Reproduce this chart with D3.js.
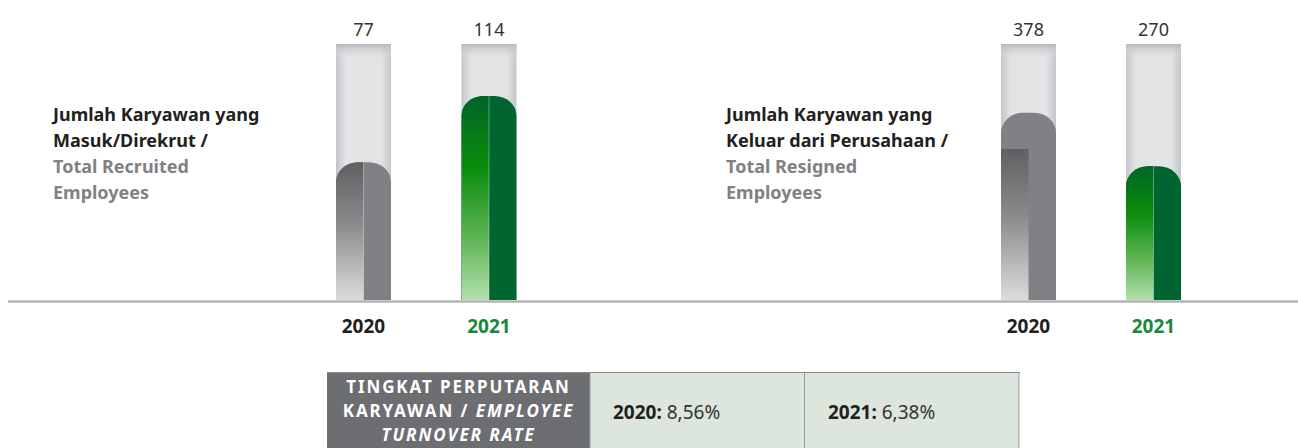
<!DOCTYPE html>
<html>
<head>
<meta charset="utf-8">
<script src="https://cdn.jsdelivr.net/npm/d3@7"></script>
<style>
  body { margin: 0; background: #fff; }
  svg { display: block; font-family: "Noto Sans", sans-serif; }
</style>
</head>
<body>
<div id="chart"></div>
<script>
// Data
const years = ["2020", "2021"];
const recruited = [77, 114];
const resigned = [378, 270];
// the lighter left-hand shading of the 2020 resigned bar stops below its top
const resignedShade = [305, 270];
const turnoverRates = ["8,56%", "6,38%"];

const width = 1298;
const height = 448;
const baseY = 300;   // bottom of the bars
const topY = 44;     // top of the grey tracks
const barW = 55;

const svg = d3.select("#chart")
  .append("svg")
  .attr("width", width)
  .attr("height", height);

const defs = svg.append("defs");

// track gradient: darker at the edges
const trackH = defs.append("linearGradient").attr("id", "trackH");
trackH.append("stop").attr("offset", "0%").attr("stop-color", "#c4c5c8");
trackH.append("stop").attr("offset", "18%").attr("stop-color", "#e3e4e6");
trackH.append("stop").attr("offset", "82%").attr("stop-color", "#e3e4e6");
trackH.append("stop").attr("offset", "100%").attr("stop-color", "#c4c5c8");

const trackV = defs.append("linearGradient").attr("id", "trackV")
  .attr("x1", 0).attr("y1", 0).attr("x2", 0).attr("y2", 1);
trackV.append("stop").attr("offset", "0%").attr("stop-color", "#b8b9bc").attr("stop-opacity", 1);
trackV.append("stop").attr("offset", "6%").attr("stop-color", "#e3e4e6").attr("stop-opacity", 0);
trackV.append("stop").attr("offset", "100%").attr("stop-color", "#e3e4e6").attr("stop-opacity", 0);

const greyShade = defs.append("linearGradient").attr("id", "greyShade")
  .attr("x1", 0).attr("y1", 0).attr("x2", 0).attr("y2", 1);
greyShade.append("stop").attr("offset", "0%").attr("stop-color", "#5f6062");
greyShade.append("stop").attr("offset", "45%").attr("stop-color", "#8a8b8c");
greyShade.append("stop").attr("offset", "100%").attr("stop-color", "#dcdcdc");

const greenShade = defs.append("linearGradient").attr("id", "greenShade")
  .attr("x1", 0).attr("y1", 0).attr("x2", 0).attr("y2", 1);
greenShade.append("stop").attr("offset", "0%").attr("stop-color", "#006426");
greenShade.append("stop").attr("offset", "35%").attr("stop-color", "#0a8d0c");
greenShade.append("stop").attr("offset", "70%").attr("stop-color", "#5fb556");
greenShade.append("stop").attr("offset", "100%").attr("stop-color", "#b3e0ab");

const fills = [
  { solid: "#808184", shade: "url(#greyShade)", label: "#231f20" },
  { solid: "#006531", shade: "url(#greenShade)", label: "#168a3c" }
];

// rectangle with rounded top corners
function roundTop(x, y, w, h, rx, ry) {
  ry = Math.min(ry, h);
  return `M${x},${y + h}V${y + ry}` +
    `A${rx},${ry} 0 0 1 ${x + rx},${y}` +
    `H${x + w - rx}` +
    `A${rx},${ry} 0 0 1 ${x + w},${y + ry}` +
    `V${y + h}Z`;
}

// axis line
svg.append("line")
  .attr("x1", 8).attr("x2", width)
  .attr("y1", baseY + 1.5).attr("y2", baseY + 1.5)
  .attr("stroke", "#b3b4b6")
  .attr("stroke-width", 2.5);

function drawPanel(id, values, shadeValues, yMax, xRange, titleX, titleDark, titleGrey) {
  const x = d3.scalePoint().domain(years).range(xRange);
  const y = d3.scaleLinear().domain([0, yMax]).range([baseY, topY]);

  const g = svg.append("g").attr("class", id);

  const bars = g.selectAll(".bar")
    .data(years.map((yr, i) => ({ year: yr, value: values[i], shade: shadeValues[i], i })))
    .enter().append("g")
    .attr("class", "bar");

  // tracks
  bars.append("rect")
    .attr("x", d => x(d.year) - barW / 2)
    .attr("y", y(yMax))
    .attr("width", barW)
    .attr("height", y(0) - y(yMax))
    .attr("fill", "url(#trackH)");
  bars.append("rect")
    .attr("x", d => x(d.year) - barW / 2)
    .attr("y", y(yMax))
    .attr("width", barW)
    .attr("height", y(0) - y(yMax))
    .attr("fill", "url(#trackV)");

  // full bar
  bars.append("path")
    .attr("d", d => roundTop(x(d.year) - barW / 2, y(d.value), barW, y(0) - y(d.value), 22, 20))
    .attr("fill", d => fills[d.i].solid);

  // shaded left half
  bars.each(function(d) {
    const cid = `${id}-clip-${d.i}`;
    defs.append("clipPath").attr("id", cid)
      .append("rect")
      .attr("x", x(d.year) - barW / 2)
      .attr("y", topY)
      .attr("width", barW / 2)
      .attr("height", baseY - topY);
    const left = x(d.year) - barW / 2;
    const path = d.shade < d.value
      ? `M${left},${baseY}V${y(d.shade)}H${left + barW}V${baseY}Z`
      : roundTop(left, y(d.value), barW, y(0) - y(d.value), 22, 20);
    d3.select(this).append("path")
      .attr("d", path)
      .attr("clip-path", `url(#${cid})`)
      .attr("fill", fills[d.i].shade);
    if (d.shade >= d.value) {
      d3.select(this).append("line")
        .attr("x1", x(d.year)).attr("x2", x(d.year))
        .attr("y1", y(d.value)).attr("y2", baseY)
        .attr("stroke", "#ffffff")
        .attr("stroke-opacity", 0.35)
        .attr("stroke-width", 1);
    }
  });

  // value labels
  bars.append("text")
    .attr("x", d => x(d.year))
    .attr("y", 36)
    .attr("text-anchor", "middle")
    .attr("font-size", 18)
    .attr("fill", "#333")
    .text(d => d.value);

  // year labels
  bars.append("text")
    .attr("x", d => x(d.year))
    .attr("y", 333)
    .attr("text-anchor", "middle")
    .attr("font-size", 19)
    .attr("font-weight", 700)
    .attr("fill", d => fills[d.i].label)
    .text(d => d.year);

  // title
  const lines = titleDark.map(t => ({ t, c: "#231f20" }))
    .concat(titleGrey.map(t => ({ t, c: "#808184" })));
  g.selectAll(".title")
    .data(lines)
    .enter().append("text")
    .attr("class", "title")
    .attr("x", titleX)
    .attr("y", (d, i) => 121 + i * 26)
    .attr("font-size", 18)
    .attr("font-weight", 700)
    .attr("fill", d => d.c)
    .text(d => d.t);
}

drawPanel("recruited", recruited, recruited, 143, [363.5, 489], 53,
  ["Jumlah Karyawan yang", "Masuk/Direkrut /"], ["Total Recruited", "Employees"]);
drawPanel("resigned", resigned, resignedShade, 517, [1028.5, 1153.5], 726,
  ["Jumlah Karyawan yang", "Keluar dari Perusahaan /"], ["Total Resigned", "Employees"]);

// turnover table
const table = svg.append("g").attr("class", "table");
const tTop = 372;
table.append("rect")
  .attr("x", 327).attr("y", tTop)
  .attr("width", 263).attr("height", height - tTop)
  .attr("fill", "#6d6e71");
table.selectAll(".cell")
  .data(turnoverRates)
  .enter().append("rect")
  .attr("class", "cell")
  .attr("x", (d, i) => 590 + i * 214.5)
  .attr("y", tTop + 0.5)
  .attr("width", 214.5)
  .attr("height", height - tTop)
  .attr("fill", "#dce6dc")
  .attr("stroke", "#9a9b9d")
  .attr("stroke-width", 1);
table.append("line")
  .attr("x1", 327).attr("x2", 1020)
  .attr("y1", tTop + 0.5).attr("y2", tTop + 0.5)
  .attr("stroke", "#8a8b8d");

const headLines = [
  [{ t: "TINGKAT PERPUTARAN", it: false }],
  [{ t: "KARYAWAN / ", it: false }, { t: "EMPLOYEE", it: true }],
  [{ t: "TURNOVER RATE", it: true }]
];
headLines.forEach((parts, i) => {
  const txt = table.append("text")
    .attr("x", 458.5)
    .attr("y", 393 + i * 24)
    .attr("text-anchor", "middle")
    .attr("font-size", 17)
    .attr("font-weight", 700)
    .attr("letter-spacing", 1.9)
    .attr("fill", "#ffffff");
  parts.forEach(p => {
    txt.append("tspan")
      .attr("font-style", p.it ? "italic" : "normal")
      .text(p.t);
  });
});

table.selectAll(".rate")
  .data(turnoverRates)
  .enter().append("text")
  .attr("class", "rate")
  .attr("x", (d, i) => 613 + i * 215)
  .attr("y", 419)
  .attr("font-size", 19)
  .each(function(d, i) {
    const t = d3.select(this);
    t.append("tspan").attr("font-weight", 700).attr("fill", "#231f20").text(years[i] + ":");
    t.append("tspan").attr("fill", "#333").text("\u00a0" + d);
  });
</script>
</body>
</html>
